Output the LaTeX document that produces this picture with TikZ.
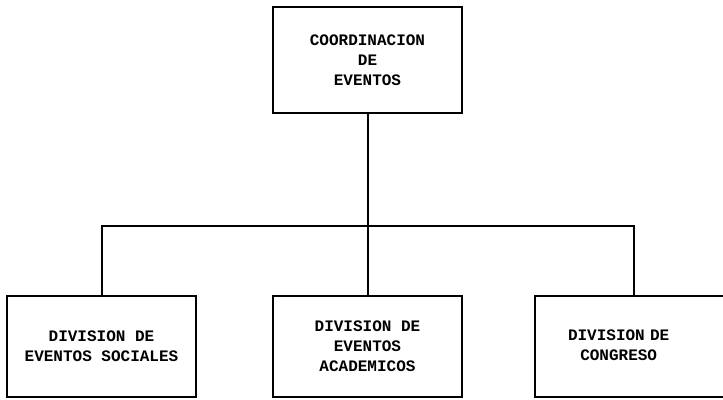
\documentclass[tikz,border=0pt]{standalone}
\usepackage{fontspec}
\newfontfamily\typewriter{Liberation Mono}
\usetikzlibrary{trees}

\begin{document}
\begin{tikzpicture}[x=1pt, y=1pt, line width=2pt,
  every node/.style={draw, rectangle, align=center, inner sep=0pt,
    font=\typewriter\bfseries\fontsize{16}{20}\selectfont,
    minimum width=189pt, minimum height=101pt},
  every child/.style={line width=2pt},
  level 1/.append style={level distance=286.5pt, sibling distance=266pt},
  edge from parent path={(\tikzparentnode.south) -- ++(0,-112pt) -| (\tikzchildnode.north)},
]
  \useasboundingbox (0,0) rectangle (723,-399);

  \node (coordinacion) at (367.5,-60) [minimum height=106pt] {COORDINACION\\DE\\EVENTOS}
    child { node (sociales) {DIVISION DE\\EVENTOS SOCIALES} }
    child { node (academicos) {DIVISION DE\\EVENTOS\\ACADEMICOS} }
    % box runs off the right edge of the page
    child[edge from parent path={(\tikzparentnode.south) -- ++(0,-112pt) -| ([xshift=-20pt]\tikzchildnode.north)}] {
      node (congreso) [xshift=20pt, minimum width=238pt, text width=171pt, align=left]
      {\begin{tabular}{@{}c@{}}DIVISION DE\\CONGRESO\end{tabular}}
    };
\end{tikzpicture}
\end{document}
